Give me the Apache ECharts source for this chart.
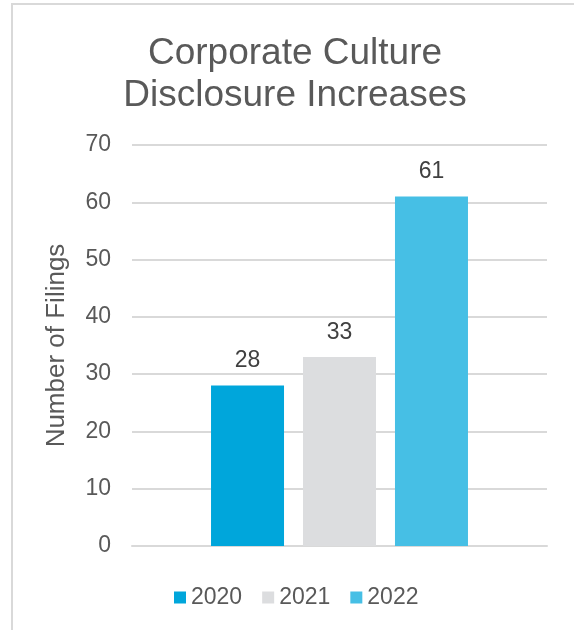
<!DOCTYPE html>
<html>
<head>
<meta charset="utf-8">
<script src="https://cdn.jsdelivr.net/npm/echarts@6/dist/echarts.min.js"></script>
<style>
  html, body { margin: 0; padding: 0; background: #fff; }
  #chart { width: 574px; height: 630px; }
</style>
</head>
<body>
<div id="chart"></div>
<script>
const categories = [""];
const seriesNames = ["2020", "2021", "2022"];
const seriesValues = [[28], [33], [61]];
const colors = ["#00A6DB", "#DCDDDF", "#46BFE5"];

const chart = echarts.init(document.getElementById("chart"));
const font = "Liberation Sans, Arial, sans-serif";

chart.setOption({
  animation: false,
  color: colors,
  textStyle: { fontFamily: font },
  title: {
    text: "Corporate Culture\nDisclosure Increases",
    left: 290,
    top: 28,
    textAlign: "center",
    textStyle: {
      fontFamily: font,
      fontSize: 37,
      fontWeight: "normal",
      color: "#595959",
      lineHeight: 42,
    },
  },
  legend: {
    data: seriesNames,
    left: 169,
    top: 581,
    itemWidth: 12,
    itemHeight: 12,
    itemGap: 20,
    icon: "rect",
    textStyle: { fontFamily: font, fontSize: 23, color: "#595959" },
  },
  grid: {
    left: 132,
    right: 27,
    top: 145,
    bottom: 84,
  },
  xAxis: {
    type: "category",
    data: categories,
    axisLine: { show: true, lineStyle: { color: "#D9D9D9", width: 2 } },
    axisTick: { show: false },
    axisLabel: { show: false },
  },
  yAxis: {
    type: "value",
    min: 0,
    max: 70,
    interval: 10,
    name: "Number of Filings",
    nameLocation: "middle",
    nameGap: 62,
    nameTextStyle: { fontFamily: font, fontSize: 26, color: "#595959" },
    axisLine: { show: false },
    axisTick: { show: false },
    axisLabel: { fontFamily: font, fontSize: 23, color: "#595959", margin: 21 },
    splitLine: { lineStyle: { color: "#D9D9D9", width: 2 } },
  },
  graphic: [
    {
      type: "polyline",
      shape: { points: [[12, 640], [12, 4], [580, 4]] },
      style: { stroke: "#D9D9D9", lineWidth: 2, fill: null },
      silent: true,
    },
  ],
  series: seriesNames.map((name, i) => ({
    name: name,
    type: "bar",
    data: seriesValues[i],
    barWidth: 73,
    barGap: "26%",
    label: {
      show: true,
      position: "top",
      distance: 13,
      fontFamily: font,
      fontSize: 23,
      color: "#404040",
    },
  })),
});
</script>
</body>
</html>
